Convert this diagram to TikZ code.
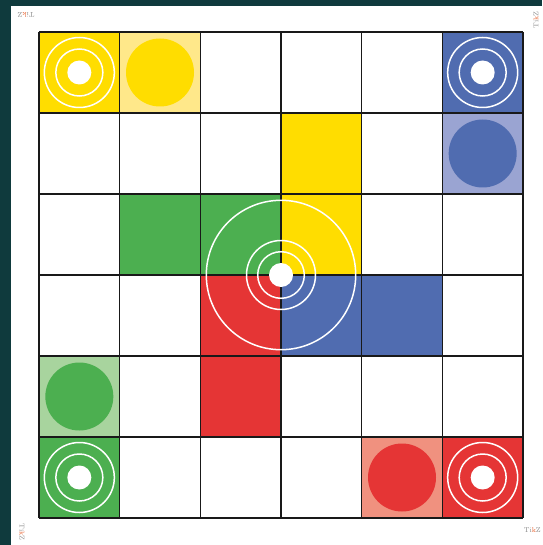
\documentclass[tikz,border=0pt]{standalone}
\definecolor{teal0}{HTML}{0F3A3D}
\definecolor{yel}{HTML}{FFDD00}
\definecolor{yelL}{HTML}{FFE88A}
\definecolor{blu}{HTML}{506CB0}
\definecolor{bluL}{HTML}{9AA4D2}
\definecolor{grn}{HTML}{4CAF50}
\definecolor{grnL}{HTML}{A8D49E}
\definecolor{rd}{HTML}{E53535}
\definecolor{rdL}{HTML}{F0917F}
\definecolor{logog}{HTML}{8A8A8A}
\definecolor{logoo}{HTML}{E8602C}
\tikzset{
  ring/.style={draw=white, line width=1.5pt},
  dot/.style={fill=white},
  gridline/.style={draw=black!90, line width=1.5pt},
  logo/.style={font=\fontsize{7}{7}\selectfont, text=logog, inner sep=0pt},
}
\newcommand\mycell[3]{\fill[#3] (#1-1,#2-1) rectangle (#1,#2);}
\newcommand\mydisc[3]{\fill[#3] (#1-0.5,#2-0.5) circle[radius=34pt];}
\newcommand\mytarget[2]{%
  \draw[ring] (#1-0.5,#2-0.5) circle[radius=35pt];
  \draw[ring] (#1-0.5,#2-0.5) circle[radius=23.5pt];
  \fill[dot] (#1-0.5,#2-0.5) circle[radius=12pt];}
\begin{document}
\begin{tikzpicture}[x=1pt,y=-1pt]
\useasboundingbox (0,0) rectangle (542,545);
\fill[teal0] (0,0) rectangle (542,545);
\fill[white] (11,6) rectangle (542,545);
% logos
\node[logo, rotate=180] at (26,15) {Ti\textcolor{logoo}{k}Z};
\node[logo, rotate=90] at (536,20) {Ti\textcolor{logoo}{k}Z};
\node[logo, rotate=-90] at (22,532) {Ti\textcolor{logoo}{k}Z};
\node[logo, anchor=east] at (541,530) {Ti\textcolor{logoo}{k}Z};
\begin{scope}[shift={(39pt,-32pt)}, x=80.667pt, y=-81pt]
  % row 1
  \mycell{1}{1}{yel}
  \mycell{2}{1}{yelL}
  \mycell{6}{1}{blu}
  % row 2
  \mycell{4}{2}{yel}
  \mycell{6}{2}{bluL}
  % row 3
  \mycell{2}{3}{grn}
  \mycell{3}{3}{grn}
  \mycell{4}{3}{yel}
  % row 4
  \mycell{3}{4}{rd}
  \mycell{4}{4}{blu}
  \mycell{5}{4}{blu}
  % row 5
  \mycell{1}{5}{grnL}
  \mycell{3}{5}{rd}
  % row 6
  \mycell{1}{6}{grn}
  \mycell{5}{6}{rdL}
  \mycell{6}{6}{rd}
  % discs
  \mydisc{2}{1}{yel}
  \mydisc{6}{2}{blu}
  \mydisc{1}{5}{grn}
  \mydisc{5}{6}{rd}
  % grid
  \foreach \i in {0,...,6} {
    \draw[gridline] (\i,0) -- (\i,6);
    \draw[gridline] (0,\i) -- (6,\i);
  }
  % corner targets
  \mytarget{1}{1}
  \mytarget{6}{1}
  \mytarget{1}{6}
  \mytarget{6}{6}
  % centre target
  \draw[ring] (3,3) circle[radius=74.7pt];
  \draw[ring] (3,3) circle[radius=34.5pt];
  \draw[ring] (3,3) circle[radius=23.3pt];
  \fill[dot] (3,3) circle[radius=12pt];
\end{scope}
\end{tikzpicture}
\end{document}
